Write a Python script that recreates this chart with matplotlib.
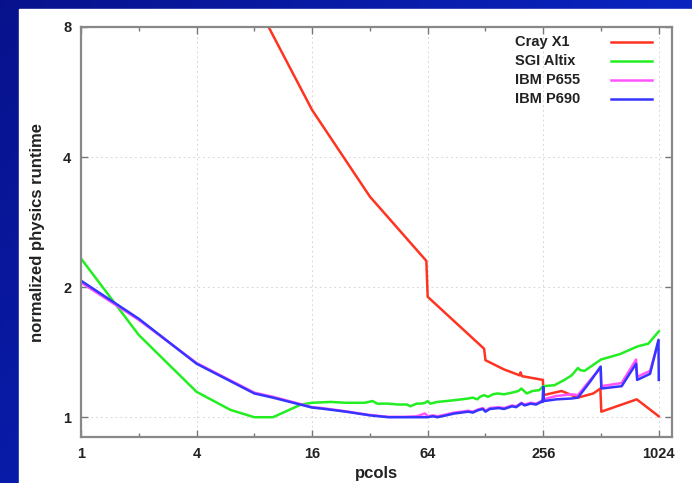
import numpy as np
import matplotlib
matplotlib.use("Agg")
import matplotlib.pyplot as plt
from matplotlib.patches import Rectangle
from matplotlib.lines import Line2D

plt.rcParams['font.family'] = ['Liberation Sans', 'DejaVu Sans']

# Cray X1
cray_x = [1, 2, 4, 8, 16, 32, 63, 64, 126, 128, 160, 193, 195, 198, 255, 257,
          319, 388, 467, 508, 514, 786, 1024]
cray_y = [62, 33, 17.5, 9.25, 5.14, 3.24, 2.30, 1.90, 1.44, 1.355, 1.29, 1.25, 1.27, 1.245, 1.22, 1.125,
          1.15, 1.11, 1.135, 1.165, 1.03, 1.10, 1.005]

# SGI Altix
sgi_x = [1, 2, 4, 6, 8, 10, 14, 16, 20, 24, 30, 33, 35, 40, 45, 50, 52, 56, 60, 62, 64, 66,
         72, 80, 88, 96, 104, 110, 116, 120, 126, 132, 140, 148, 160, 176, 190, 197, 210,
         225, 244, 256, 293, 330, 360, 388, 400, 420, 512, 643, 770, 800, 904, 1024]
sgi_y = [2.33, 1.55, 1.145, 1.04, 1.0, 1.0, 1.07, 1.08, 1.085, 1.08, 1.08, 1.09, 1.075, 1.075,
         1.07, 1.07, 1.06, 1.075, 1.076, 1.08, 1.09, 1.075, 1.085, 1.09, 1.095, 1.1, 1.105, 1.11,
         1.10, 1.115, 1.125, 1.115, 1.13, 1.135, 1.13, 1.14, 1.15, 1.165, 1.135, 1.15, 1.155,
         1.18, 1.186, 1.22, 1.25, 1.30, 1.285, 1.28, 1.36, 1.40, 1.45, 1.46, 1.48, 1.58]

# IBM P655
p655_x = [1, 2, 4, 8, 10, 16, 18, 24, 32, 40, 48, 56, 62, 64, 68, 72, 80, 88, 96, 104, 110,
          117, 124, 128, 135, 150, 160, 176, 185, 197, 205, 220, 235, 250, 256, 300, 360, 388,
          450, 510, 514, 656, 780, 790, 922, 1024]
p655_y = [2.05, 1.68, 1.335, 1.14, 1.115, 1.055, 1.05, 1.032, 1.012, 1.002, 1.002, 1.005, 1.02,
          1.005, 1.01, 1.005, 1.015, 1.025, 1.03, 1.035, 1.03, 1.042, 1.05, 1.035, 1.05, 1.055,
          1.05, 1.065, 1.06, 1.08, 1.07, 1.08, 1.075, 1.09, 1.10, 1.12, 1.13, 1.125, 1.22, 1.30,
          1.18, 1.20, 1.36, 1.24, 1.28, 1.50]

# IBM P690
p690_x = [1, 2, 4, 8, 10, 16, 18, 24, 32, 40, 48, 56, 64, 68, 72, 80, 88, 96, 104, 110, 117,
          124, 128, 135, 150, 160, 176, 185, 197, 205, 220, 235, 250, 254, 256, 258, 300, 360,
          388, 450, 510, 514, 656, 780, 790, 922, 1020, 1024]
p690_y = [2.07, 1.69, 1.33, 1.135, 1.11, 1.053, 1.047, 1.03, 1.01, 1.0, 1.0, 1.0, 1.0, 1.005,
          1.0, 1.01, 1.02, 1.025, 1.03, 1.025, 1.038, 1.045, 1.03, 1.045, 1.05, 1.045, 1.06,
          1.055, 1.076, 1.065, 1.075, 1.07, 1.085, 1.085, 1.175, 1.09, 1.10, 1.105, 1.11, 1.21,
          1.31, 1.165, 1.18, 1.33, 1.22, 1.26, 1.51, 1.22]

series = [("Cray X1", cray_x, cray_y, "#ff3322"),
          ("SGI Altix", sgi_x, sgi_y, "#22ee22"),
          ("IBM P655", p655_x, p655_y, "#ff55ff"),
          ("IBM P690", p690_x, p690_y, "#3535ff")]

x_ticks = [1, 4, 16, 64, 256, 1024]
x_minor = [2, 8, 32, 128, 512]
y_ticks = [1, 2, 4, 8]

W, H = 692, 483
fig = plt.figure(figsize=(W / 100, H / 100), dpi=100)

# blue slide background
bg = fig.add_axes([0, 0, 1, 1])
bg.axis('off')
gx, gy = np.meshgrid(np.linspace(0, 1, 200), np.linspace(0, 1, 140))
t = 0.65 * gx + 0.35 * gy
dark = np.array([0.03, 0.07, 0.55])
light = np.array([0.04, 0.18, 0.86])
img = dark[None, None, :] + t[..., None] * (light - dark)[None, None, :]
bg.imshow(img, extent=[0, 1, 0, 1], aspect='auto', origin='upper')
bg.add_patch(Rectangle((19 / W, 0), 1, 1 - 9 / H, color='white', transform=bg.transAxes))
bg.set_xlim(0, 1)
bg.set_ylim(0, 1)

ax = fig.add_axes([81 / W, 1 - 437 / H, (672 - 81) / W, (437 - 27) / H])
for name, xs, ys, c in series:
    ax.plot(xs, ys, color=c, lw=1.8, solid_joinstyle='round')

ax.set_xscale('log', base=2)
ax.set_yscale('log', base=2)
ax.set_xlim(1, 1200)
ax.set_ylim(0.9, 8)
ax.set_xticks(x_ticks)
ax.set_xticklabels([str(v) for v in x_ticks])
ax.set_xticks(x_minor, minor=True)
ax.set_xticklabels([], minor=True)
ax.set_yticks(y_ticks)
ax.set_yticklabels([str(v) for v in y_ticks])
ax.yaxis.set_minor_locator(matplotlib.ticker.NullLocator())
ax.tick_params(which='both', direction='in', top=True, right=True, color='#777777')
ax.tick_params(which='major', length=5, width=1, labelsize=10.5, pad=7)
ax.tick_params(which='minor', length=3, width=1)
for lab in ax.get_xticklabels() + ax.get_yticklabels():
    lab.set_fontweight('bold')
    lab.set_color('#222222')
ax.grid(True, which='major', linestyle=(0, (2, 3)), color='#d8d8d8', lw=0.7)
for s in ax.spines.values():
    s.set_color('#888888')
    s.set_linewidth(1.6)

ax.set_xlabel('pcols', fontsize=12, fontweight='bold', color='#222222', labelpad=4)
ax.set_ylabel('normalized physics runtime', fontsize=12, fontweight='bold',
              color='#222222', labelpad=13)

# legend, drawn by hand like gnuplot's key
for i, (name, xs, ys, c) in enumerate(series):
    yy = 1 - (42 + 19 * i) / H
    fig.text(515 / W, yy, name, fontsize=10.5, fontweight='bold', color='#222222',
             va='center', ha='left')
    fig.add_artist(Line2D([611 / W, 652 / W], [yy, yy], color=c, lw=1.8,
                          transform=fig.transFigure))

fig.savefig('out.png', dpi=100)
